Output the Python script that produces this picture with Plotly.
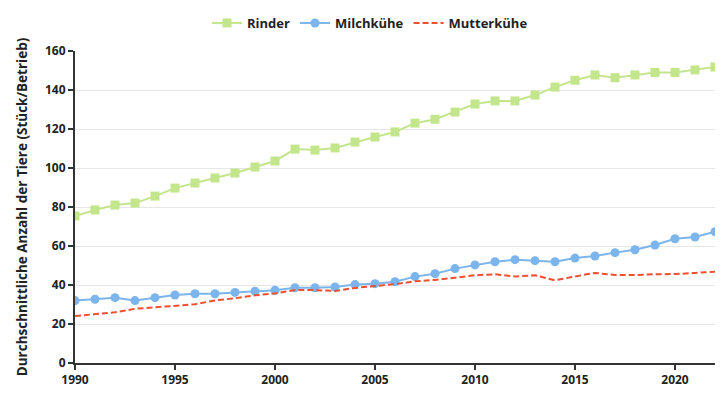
import plotly.graph_objects as go

years = list(range(1990, 2023))
rinder = [75.4, 78.5, 81.0, 82.0, 85.6, 89.7, 92.3, 94.9, 97.4, 100.5, 103.6,
          109.7, 109.2, 110.3, 113.3, 115.9, 118.5, 123.0, 125.0, 128.7, 132.8,
          134.4, 134.4, 137.4, 141.5, 145.0, 147.7, 146.3, 147.7, 149.0, 149.0,
          150.3, 151.8]
milchkuehe = [32.0, 32.7, 33.5, 32.0, 33.5, 34.9, 35.5, 35.5, 36.2, 36.8, 37.3,
              38.6, 38.6, 39.0, 40.2, 40.7, 41.7, 44.3, 45.8, 48.4, 50.3,
              51.9, 53.0, 52.5, 51.9, 53.8, 54.9, 56.6, 58.1, 60.5, 63.7,
              64.6, 67.3]
mutterkuehe = [24.1, 25.1, 26.0, 27.8, 28.5, 29.4, 30.1, 32.1, 33.2, 34.7, 35.7,
               37.4, 37.4, 36.9, 38.5, 39.5, 40.4, 41.9, 42.6, 43.7, 45.0,
               45.5, 44.4, 45.0, 42.4, 44.4, 46.2, 45.1, 45.1, 45.5, 45.6,
               46.2, 46.8]
x_ticks = [1990, 1995, 2000, 2005, 2010, 2015, 2020]
y_ticks = [0, 20, 40, 60, 80, 100, 120, 140, 160]

fig = go.Figure()
fig.add_trace(go.Scatter(x=years, y=rinder, name="Rinder", mode="lines+markers",
                         line=dict(color="#c3e68d", width=2),
                         marker=dict(symbol="square", size=9, color="#c3e68d")))
fig.add_trace(go.Scatter(x=years, y=milchkuehe, name="Milchkühe", mode="lines+markers",
                         line=dict(color="#7cb5ec", width=2),
                         marker=dict(symbol="circle", size=9, color="#7cb5ec")))
fig.add_trace(go.Scatter(x=years, y=mutterkuehe, name="Mutterkühe", mode="lines",
                         line=dict(color="#f0502f", width=2, dash="6px,3px")))

fig.update_layout(
    width=717, height=392,
    margin=dict(l=67, r=10, t=43, b=37, autoexpand=False),
    plot_bgcolor="white", paper_bgcolor="white",
    font=dict(family="Open Sans", size=12, color="#222222", weight="bold"),
    legend=dict(orientation="h", x=362 / 717, xanchor="center", xref="container",
                y=1 - 15 / 392, yanchor="middle", yref="container",
                font=dict(size=13, weight="bold"),
                itemwidth=30, tracegroupgap=0),
    xaxis=dict(range=[1990, 2022], tickvals=x_ticks, showgrid=False, automargin=False,
               showline=True, linecolor="#333333", linewidth=2,
               ticks="outside", ticklen=5, tickcolor="#333333", tickwidth=2,
               zeroline=False),
    yaxis=dict(range=[0, 160], tickvals=y_ticks, showgrid=True, gridcolor="#e6e6e6",
               showline=True, linecolor="#333333", linewidth=2, automargin=False,
               ticks="outside", ticklen=5, tickcolor="#333333", tickwidth=2,
               zeroline=False,
               title=dict(text="Durchschnittliche Anzahl der Tiere (Stück/Betrieb)",
                          font=dict(size=13.5, weight="bold"), standoff=14)),
)
fig.write_html("out.html")
